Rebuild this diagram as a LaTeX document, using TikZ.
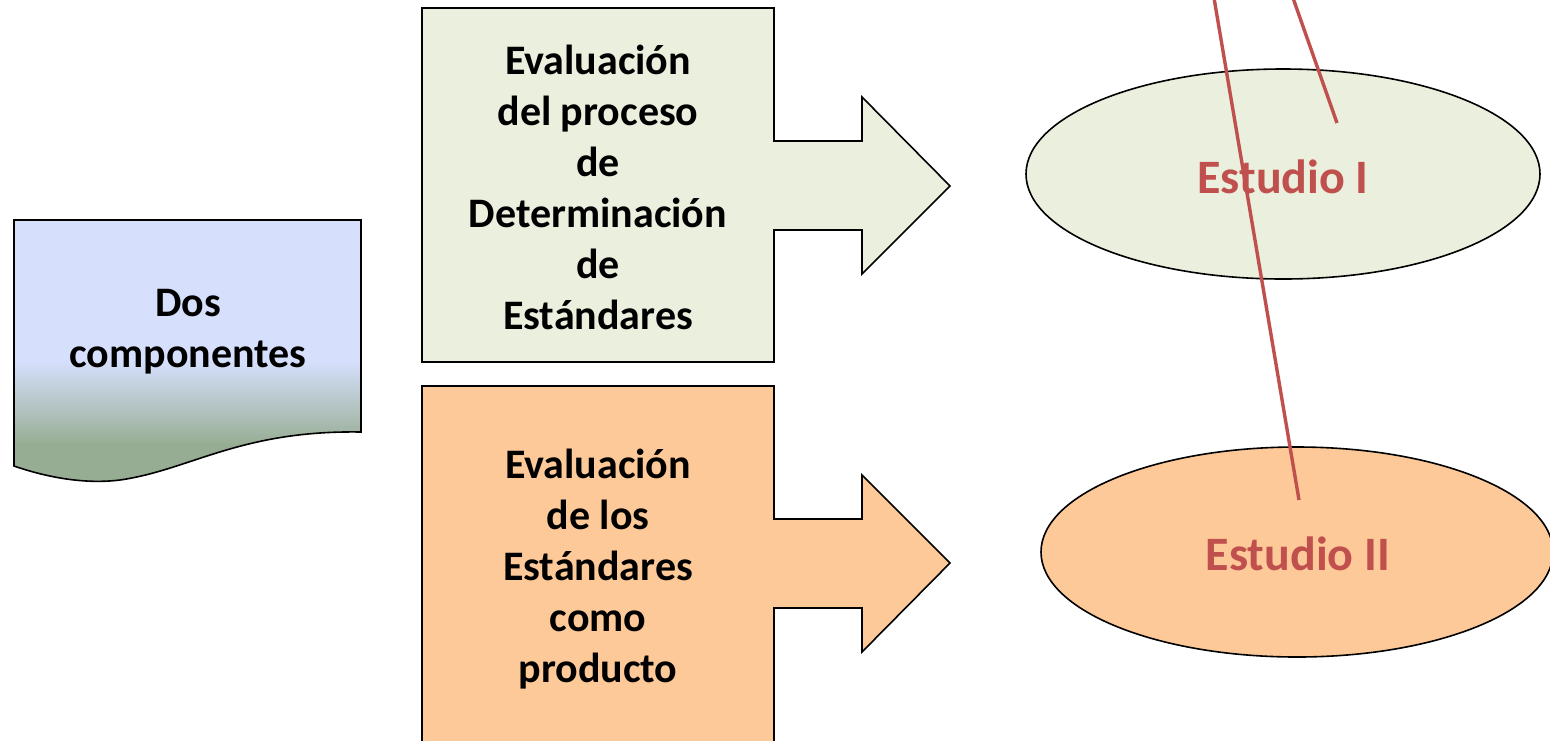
\documentclass[tikz,border=0pt]{standalone}
\usepackage{fontspec}
\setmainfont{Carlito}
\definecolor{pgreen}{HTML}{EBEFDD}
\definecolor{porange}{HTML}{FDC998}
\definecolor{dblue}{HTML}{D6E0FD}
\definecolor{dgreen}{HTML}{97AD93}
\definecolor{rline}{HTML}{C0504D}
\tikzset{
  shapeline/.style={draw=black, line width=1.6pt, line join=miter},
  bigtext/.style={align=center, font=\fontsize{42}{51}\selectfont\bfseries, inner sep=0pt},
  studytext/.style={font=\fontsize{48}{56}\selectfont\bfseries, text=rline, inner sep=0pt},
  redline/.style={draw=rline, line width=3.4pt},
}
\begin{document}
\begin{tikzpicture}[x=1pt,y=-1pt]
\useasboundingbox (0,0) rectangle (1550,740);
% document shape
\begin{scope}
\clip (14,220) -- (361,220) -- (361,432) .. controls (240,430) and (190,470) .. (120,480) .. controls (80,485) and (40,475) .. (14,466) -- cycle;
\fill[dblue] (10,215) rectangle (365,362);
\shade[top color=dblue, bottom color=dgreen] (10,360) rectangle (365,445);
\fill[dgreen] (10,443) rectangle (365,490);
\end{scope}
\draw[shapeline] (14,220) -- (361,220) -- (361,432) .. controls (240,430) and (190,470) .. (120,480) .. controls (80,485) and (40,475) .. (14,466) -- cycle;
\node[bigtext] (doc) at (188,332) {Dos\\componentes};
% top callout
\draw[shapeline, fill=pgreen] (422,8) -- (774,8) -- (774,141) -- (862,141) -- (862,97) -- (950,186) -- (862,274) -- (862,230) -- (774,230) -- (774,362) -- (422,362) -- cycle;
\node[bigtext] (proc) at (598,187) {Evaluación\\del proceso\\de\\Determinación\\de\\Estándares};
% bottom callout
\draw[shapeline, fill=porange] (422,386) -- (774,386) -- (774,519) -- (862,519) -- (862,475) -- (950,563) -- (862,652) -- (862,608) -- (774,608) -- (774,746) -- (422,746) -- cycle;
\node[bigtext] (prod) at (598,569) {Evaluación\\de los\\Estándares\\como\\producto};
% ellipses
\draw[shapeline, fill=pgreen] (1283,174) ellipse [x radius=257, y radius=105];
\node[studytext] (e1) at (1283,177) {Estudio I};
\draw[shapeline, fill=porange] (1297,552) ellipse [x radius=256, y radius=105];
\node[studytext] (e2) at (1298,554) {Estudio II};
% red lines
\coordinate (a1) at (1214,-2);
\coordinate (a2) at (1299,500);
\coordinate (b1) at (1293,-2);
\coordinate (b2) at (1337,123);
\draw[redline] (a1) -- (a2);
\draw[redline] (b1) -- (b2);
\end{tikzpicture}
\end{document}
